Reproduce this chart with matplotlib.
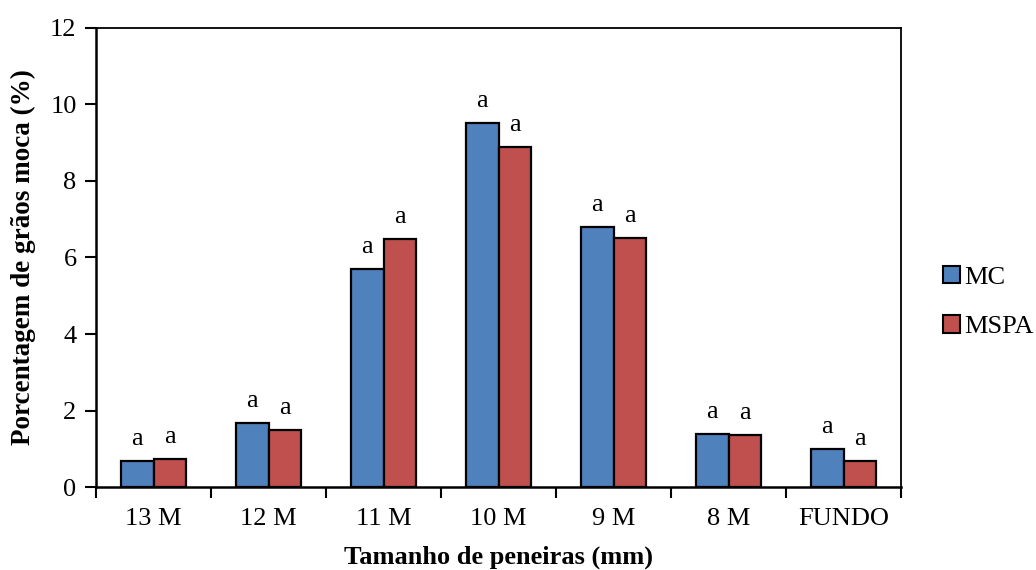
import numpy as np
import matplotlib
matplotlib.use("Agg")
import matplotlib.pyplot as plt
from matplotlib.patches import Patch

plt.rcParams['font.family'] = ['Liberation Serif', 'DejaVu Serif']

# dados
categorias = ['13 M', '12 M', '11 M', '10 M', '9 M', '8 M', 'FUNDO']
mc = [0.68, 1.68, 5.70, 9.52, 6.80, 1.39, 0.99]
mspa = [0.73, 1.49, 6.48, 8.89, 6.51, 1.37, 0.69]
letras_mc = ['a'] * 7
letras_mspa = ['a'] * 7

cor_mc = '#4F81BD'
cor_mspa = '#C0504D'

fig = plt.figure(figsize=(10.36, 5.70), dpi=100)
ax = fig.add_axes([0.0927, 0.1456, 0.7770, 0.8053])

x = np.arange(len(categorias))
w = 0.284
b1 = ax.bar(x - w / 2, mc, w, color=cor_mc, edgecolor='black', linewidth=1.6)
b2 = ax.bar(x + w / 2, mspa, w, color=cor_mspa, edgecolor='black', linewidth=1.6)

for bars, letras in [(b1, letras_mc), (b2, letras_mspa)]:
    for r, t in zip(bars, letras):
        ax.annotate(t, (r.get_x() + r.get_width() / 2, r.get_height()),
                    xytext=(0, 11.5), textcoords='offset points',
                    ha='center', va='baseline', fontsize=19)

ax.set_xlim(-0.5, len(categorias) - 0.5)
ax.set_ylim(0, 12)
ax.set_yticks(np.arange(0, 13, 2))
ax.set_xticks(x)
ax.set_xticklabels(categorias)
ax.set_xticks(np.arange(-0.5, len(categorias)), minor=True)
ax.tick_params(axis='x', which='major', length=0, labelsize=19, pad=15)
ax.tick_params(axis='x', which='minor', length=8, width=1.5, direction='out')
ax.tick_params(axis='y', length=8, width=1.5, direction='out', labelsize=19, pad=6)

for s in ['left', 'bottom']:
    ax.spines[s].set_linewidth(1.8)
for s in ['top', 'right']:
    ax.spines[s].set_linewidth(1.3)

ax.set_ylabel('Porcentagem de grãos moca (%)', fontsize=19.5, fontweight='bold')
ax.set_xlabel('Tamanho de peneiras (mm)', fontsize=19, fontweight='bold')
ax.yaxis.set_label_coords(-0.074, 0.5)
ax.xaxis.set_label_coords(0.5, -0.127)

handles = [Patch(facecolor=cor_mc, edgecolor='black', linewidth=1.5, label='MC'),
           Patch(facecolor=cor_mspa, edgecolor='black', linewidth=1.5, label='MSPA')]
fig.legend(handles=handles, loc='center left', bbox_to_anchor=(0.910, 0.47),
           frameon=False, fontsize=19, handlelength=0.65, handleheight=0.65,
           handletextpad=0.15, labelspacing=1.0, borderaxespad=0, borderpad=0)

fig.savefig('out.png', dpi=100)
